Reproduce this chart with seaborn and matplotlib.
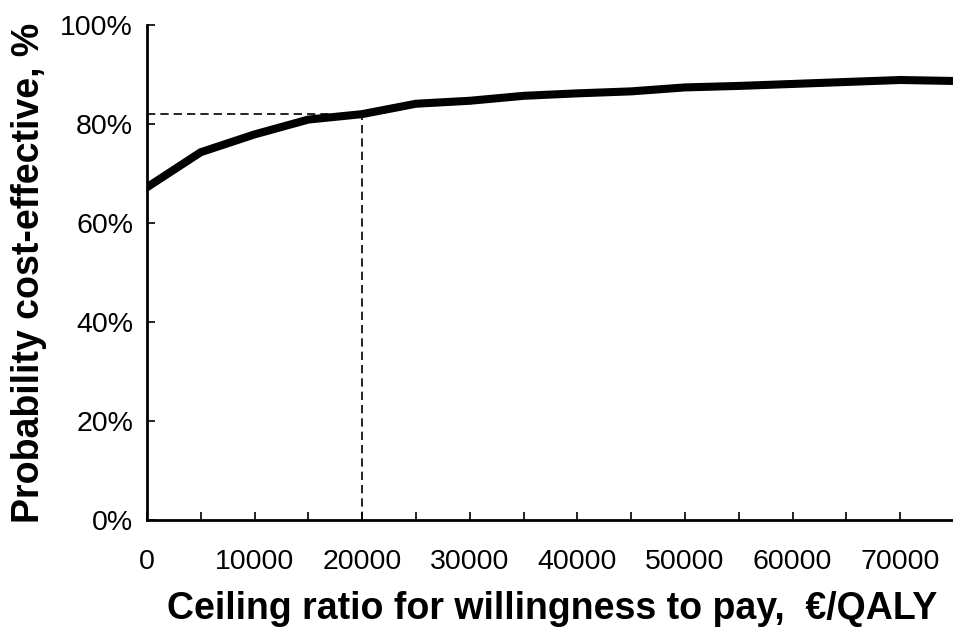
import matplotlib
matplotlib.use("Agg")
import matplotlib.pyplot as plt
import seaborn as sns
import pandas as pd

# Cost-effectiveness acceptability curve
wtp = [0, 5000, 10000, 15000, 20000, 25000, 30000, 35000,
       40000, 45000, 50000, 55000, 60000, 65000, 70000, 75000]
prob = [67.2, 74.3, 77.9, 80.9, 82.0, 84.1, 84.7, 85.7,
        86.2, 86.6, 87.4, 87.7, 88.1, 88.5, 88.9, 88.7]
threshold = 20000
x_ticks = [0, 10000, 20000, 30000, 40000, 50000, 60000, 70000]
y_ticks = [0, 20, 40, 60, 80, 100]

sns.set_theme(style="white")
plt.rcParams["font.family"] = ["Liberation Sans", "DejaVu Sans"]
plt.rcParams["text.color"] = "black"
plt.rcParams["axes.labelcolor"] = "black"
plt.rcParams["xtick.color"] = "black"
plt.rcParams["ytick.color"] = "black"

df = pd.DataFrame({"wtp": wtp, "prob": prob})

fig = plt.figure(figsize=(9.54, 6.27), dpi=100)
ax = fig.add_axes([0.154, 0.171, 0.846, 0.789])

sns.lineplot(data=df, x="wtp", y="prob", ax=ax, color="black",
             linewidth=5.8, solid_joinstyle="miter")

# threshold guide lines
p_at = prob[wtp.index(threshold)]
ax.plot([0, threshold], [p_at, p_at], color="black", lw=1.2,
        dashes=(5, 3), zorder=1)
ax.plot([threshold, threshold], [0, p_at], color="black", lw=1.2,
        dashes=(5, 3), zorder=1)

ax.set_xlim(0, 75000)
ax.set_ylim(0, 100)
ax.set_xticks(list(range(0, 75001, 5000)))
ax.set_xticklabels([str(v) if v in x_ticks else "" for v in range(0, 75001, 5000)])
ax.set_yticks(y_ticks)
ax.set_yticklabels([f"{v}%" for v in y_ticks])

for s in ["top", "right"]:
    ax.spines[s].set_visible(False)
for s in ["left", "bottom"]:
    ax.spines[s].set_color("black")
    ax.spines[s].set_linewidth(2)

ax.tick_params(axis="x", direction="in", length=6, width=1.2, color="black",
               labelcolor="black", labelsize=20.5, pad=21, bottom=True)
ax.tick_params(axis="y", direction="in", length=6, width=1.2, color="black",
               labelcolor="black", labelsize=20.5, pad=10, left=True)

ax.set_xlabel("Ceiling ratio for willingness to pay,  €/QALY",
              fontsize=27, fontweight="bold", color="black")
ax.set_ylabel("Probability cost-effective, %",
              fontsize=27, fontweight="bold", color="black")
ax.xaxis.set_label_coords(0.502, -0.143)
ax.yaxis.set_label_coords(-0.124, 0.5)

fig.savefig("out.png", dpi=100)
